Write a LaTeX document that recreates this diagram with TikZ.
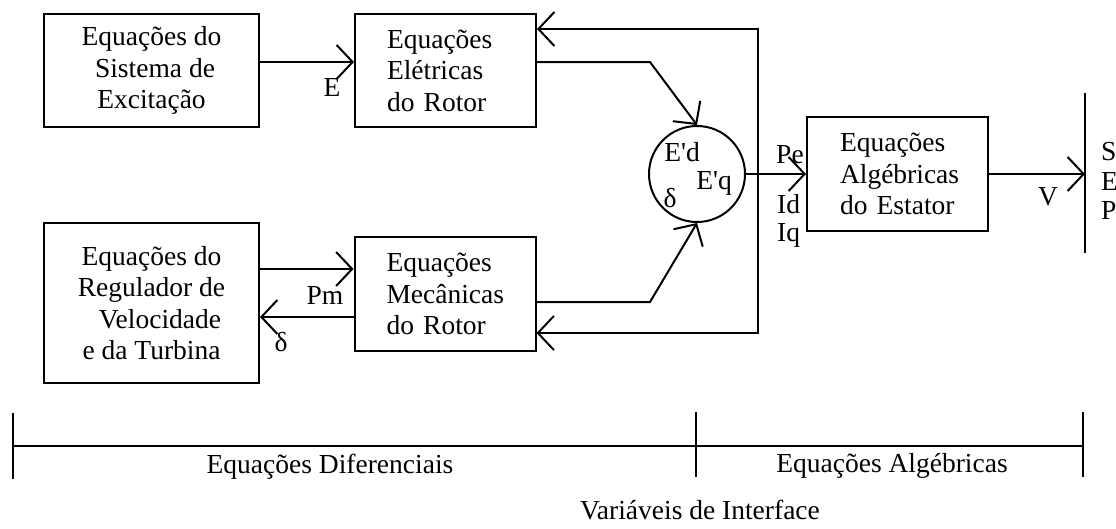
\documentclass[tikz,border=0pt]{standalone}
\usepackage{fontspec}
\setmainfont{Liberation Serif}[Ligatures=TeXOff]
\usetikzlibrary{arrows.meta}
\begin{document}
\begin{tikzpicture}[x=1pt,y=-1pt,
  every node/.style={font=\fontsize{27.5}{31.5}\selectfont, inner sep=0pt},
  blk/.style={draw, line width=2pt},
  lblk/.style={blk, align=left, text width=117pt, inner xsep=32pt, inner ysep=0pt},
  cblk/.style={blk, align=center, inner sep=0pt},
  arr/.style={line width=2pt, -{Straight Barb[length=16pt,width=34pt]}},
  ln/.style={line width=2pt}]
\useasboundingbox (0,0) rectangle (1116,528);

% blocks
\node[cblk, minimum width=215pt, minimum height=113pt] (b1) at (151.5,70.5)
  {Equações do\\\hspace*{7pt}Sistema de\\Excitação};
\node[lblk, minimum height=113pt] (b2) at (445.5,70.5)
  {Equações\\Elétricas\\do Rotor};
\node[cblk, minimum width=215pt, minimum height=160pt] (b3) at (151.5,303)
  {Equações do\\Regulador de\\\hspace*{17pt}Velocidade\\e da Turbina};
\node[lblk, minimum height=114pt] (b4) at (445,294)
  {Equações\\Mecânicas\\do Rotor};
\node[lblk, minimum height=114pt, inner xsep=33pt, text width=115pt] (b5) at (897.5,174)
  {Equações\\Algébricas\\do Estator};

% circle of interface variables
\node[draw, circle, line width=2pt, minimum size=96pt] (c) at (697,174) {};
\node (ed) at (682,152) {E'd};
\node (eq) at (714,183) {E'q};
\node (dl) at (670,198) {δ};

% helper coordinates
\coordinate (k1) at (650,62);
\coordinate (k2) at (650,302);
\coordinate (fbtop) at (758,29);
\coordinate (fbbot) at (758,333);
\coordinate (bartop) at (1085,93);
\coordinate (barbot) at (1085,253);

% connectors
\draw[arr] ([yshift=8.5pt]b1.east) -- ([yshift=8.5pt]b2.west);
\draw[arr] ([yshift=34pt]b3.east) -- ([yshift=34pt]b3.east -| b4.west);
\draw[arr] ([yshift=-23pt]b4.west) -- ([yshift=-23pt]b4.west -| b3.east);
\draw[arr] ([yshift=8.5pt]b2.east) -- (k1) -- (c.north);
\draw[arr] ([yshift=-8pt]b4.east) -- (k2) -- (c.south);
\draw[arr] (c.east) -- (b5.west);
\draw[arr] (fbtop |- c.east) -- (fbtop) -- (b2.east |- fbtop);
\draw[arr] (fbtop |- c.east) -- (fbbot) -- (b4.east |- fbbot);
\draw[ln] (bartop) -- (barbot);
\draw[arr] (b5.east) -- (b5.east -| bartop);

% connector labels
\node (lE) at (332,87) {E};
\node (lPm) at (325,295) {Pm};
\node (lD) at (281,342) {δ};
\node[anchor=west] (lPe) at (776,155) {Pe};
\node[anchor=west] (lId) at (777,204) {Id};
\node[anchor=west] (lIq) at (777,235) {Iq};
\node (lV) at (1048,197) {V};
\node[anchor=west] (lS) at (1101,152) {S};
\node[anchor=west] (lE2) at (1101,181) {E};
\node[anchor=west] (lP) at (1101,210) {P};

% bottom scale
\coordinate (s0) at (13,446);
\coordinate (s1) at (696,446);
\coordinate (s2) at (1083,446);
\draw[ln] (s0) -- (s2);
\draw[ln] ([yshift=33pt]s0) -- ([yshift=-33pt]s0);
\draw[ln] ([yshift=34pt]s1) -- ([yshift=-31pt]s1);
\draw[ln] ([yshift=34pt]s2) -- ([yshift=-31pt]s2);
\node (tdif) at (330,467) {Equações Diferenciais};
\node (talg) at (892,466) {Equações Algébricas};
\node (tint) at (700,510) {Variáveis de Interface};
\end{tikzpicture}
\end{document}
